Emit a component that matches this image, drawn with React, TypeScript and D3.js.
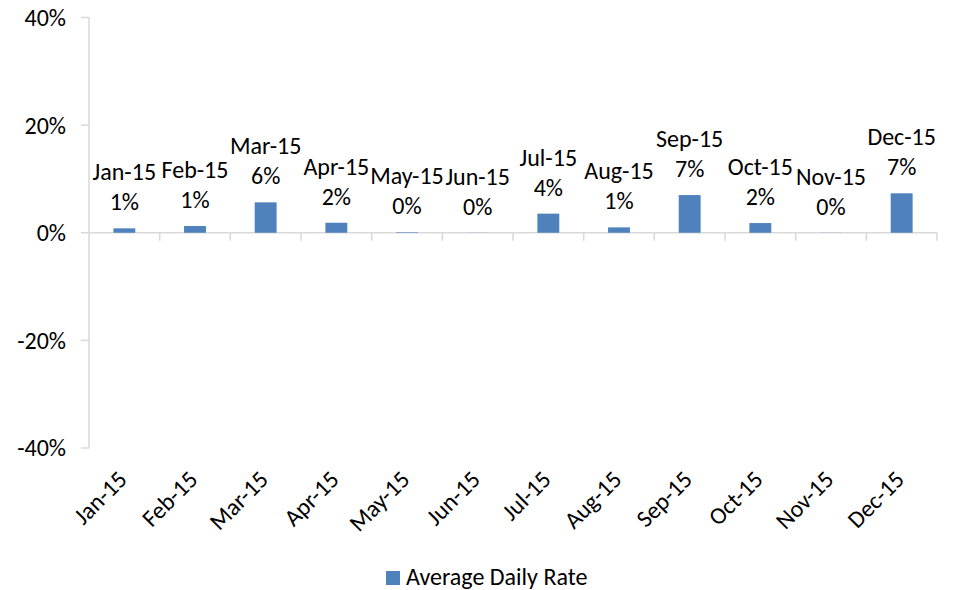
import React from "react";
import * as d3 from "d3";

const categories = ["Jan-15","Feb-15","Mar-15","Apr-15","May-15","Jun-15","Jul-15","Aug-15","Sep-15","Oct-15","Nov-15","Dec-15"];
const values = [0.0082, 0.0125, 0.0565, 0.0186, 0.001, 0.0002, 0.0355, 0.010, 0.070, 0.018, 0.0002, 0.0733];
const yTicks = [-0.4, -0.2, 0, 0.2, 0.4];
const seriesName = "Average Daily Rate";

const W = 953, H = 590;
const left = 89, right = 937, top = 17.5, bottom = 448;
const FONT = "Carlito, Calibri, Lato, sans-serif";
const FS = 24;

export default function App() {
  const x = d3.scaleBand<string>().domain(categories).range([left, right]).padding(0);
  const y = d3.scaleLinear().domain([-0.4, 0.4]).range([bottom, top]);
  const bw = x.bandwidth() * 0.31;
  const fmt0 = d3.format(".0%");
  const fmt = (v: number) => fmt0(v).replace("\u2212", "-");
  const axisColor = "#D9D9D9";
  const y0 = y(0);
  return (
    <svg width={W} height={H} style={{ position: "absolute", left: 0, top: 0, background: "#fff" }} fontFamily={FONT}>
      {/* y axis */}
      <line x1={left} x2={left} y1={top} y2={bottom} stroke={axisColor} strokeWidth={1.5} />
      {yTicks.map((t) => (
        <g key={t}>
          <line x1={left - 8} x2={left} y1={y(t)} y2={y(t)} stroke={axisColor} strokeWidth={1.5} />
          <text x={66} y={y(t)} dy="0.35em" textAnchor="end" fontSize={FS} fill="#000">{fmt(t)}</text>
        </g>
      ))}
      {/* x axis at zero */}
      <line x1={left} x2={right} y1={y0} y2={y0} stroke={axisColor} strokeWidth={1.5} />
      {categories.map((c) => (
        <line key={"t" + c} x1={(x(c) as number) + x.bandwidth()} x2={(x(c) as number) + x.bandwidth()} y1={y0} y2={y0 + 8} stroke={axisColor} strokeWidth={1.5} />
      ))}
      {/* bars */}
      {categories.map((c, i) => {
        const cx = (x(c) as number) + x.bandwidth() / 2;
        const v = values[i];
        return (
          <rect key={"b" + c} x={cx - bw / 2} width={bw} y={Math.min(y(v), y0)} height={Math.abs(y(v) - y0)} fill="#4F81BD" />
        );
      })}
      {/* data labels */}
      {categories.map((c, i) => {
        const cx = (x(c) as number) + x.bandwidth() / 2;
        const v = values[i];
        const base = y(Math.max(v, 0)) - 18;
        return (
          <text key={"l" + c} textAnchor="middle" fontSize={FS} fill="#000">
            <tspan x={cx} y={base - 30}>{c}</tspan>
            <tspan x={cx} y={base}>{fmt(v)}</tspan>
          </text>
        );
      })}
      {/* category axis labels */}
      {categories.map((c) => {
        const cx = (x(c) as number) + x.bandwidth() / 2;
        return (
          <text key={"x" + c} transform={`translate(${cx + 4},${481}) rotate(-45)`} textAnchor="end" fontSize={FS} fill="#000">{c}</text>
        );
      })}
      {/* legend */}
      <rect x={386} y={571} width={14} height={14} fill="#4F81BD" />
      <text x={406} y={585} fontSize={FS} fill="#000">{seriesName}</text>
    </svg>
  );
}
